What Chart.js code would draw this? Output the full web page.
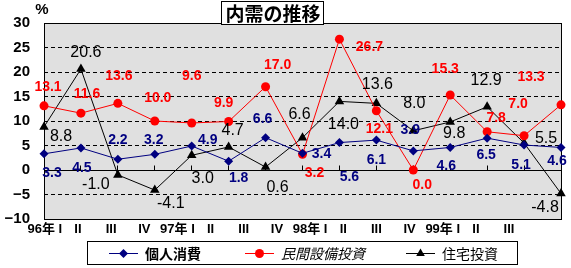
<!DOCTYPE html>
<html>
<head>
<meta charset="utf-8">
<script src="https://cdn.jsdelivr.net/npm/chart.js@4.4.1/dist/chart.umd.min.js"></script>
<style>
body{margin:0;background:#fff;}
canvas{display:block;}
</style>
</head>
<body>
<canvas id="naijuChart" width="571" height="268"></canvas>
<script>
/* DATA */
const quarters=["96年 I","II","III","IV","97年 I","II","III","IV","98年 I","II","III","IV","99年 I","II","III"];
const kojinShohi=[3.3,4.5,2.2,3.2,4.9,1.8,6.6,3.4,5.6,6.1,3.9,4.6,6.5,5.1,4.6];
const minkanSetsubi=[13.1,11.6,13.6,10.0,9.6,9.9,17.0,3.2,26.7,12.1,0.0,15.3,7.8,7.0,13.3];
const jutakuToshi=[8.8,20.6,-1.0,-4.1,3.0,4.7,0.6,6.6,14.0,13.6,8.0,9.8,12.9,5.5,-4.8];
const seriesNames=["個人消費","民間設備投資","住宅投資"];
const chartTitle="内需の推移";
const yUnit="%";
const yMin=-10, yMax=30, yStep=5;

/* STYLE */
const latin="'Liberation Sans', Arial, sans-serif";
const cjk="'Noto Sans CJK JP', sans-serif";
const mixed="'Liberation Sans', 'Noto Sans CJK JP', sans-serif";
const colors=["#000080","#ff0000","#000000"];
const markers=["rectRot","circle","triangle"];

// value label offsets from each point (px)
const blueOffsets=[[8,18],[1,19],[0,-20],[-1,-15],[16,-7],[10,16],[-3,-20],[19,0],[10,33],[0,19],[-3,-22],[-4,17],[-1,16],[-3,19],[-4,12]];
const redOffsets=[[4,-20],[6,-20],[1,-28],[3,-24],[0,-48],[-5,-20],[12,-23],[12,18],[30,7],[3,17],[9,14],[-5,-27],[9,-15],[-6,-33],[-30,-29]];
const blackOffsets=[[17,8],[5,-18],[-22,8],[16,12],[11,22],[4,-18],[12,19],[-3,-24],[4,22],[1,-20],[1,-29],[4,10],[-1,-28],[22,-6],[-16,13]];

const labelStyles=[
    {size:14,font:"bold 14px "+latin,color:colors[0],offsets:blueOffsets},
    {size:14,font:"bold 14px "+latin,color:colors[1],offsets:redOffsets},
    {size:16,font:"16px "+latin,color:colors[2],offsets:blackOffsets}
];

const legendItems=[
    {lineX:109,textX:145,font:"bold 14px "+cjk},
    {lineX:245,textX:281,font:"italic 14px "+cjk},
    {lineX:406,textX:442,font:"14px "+cjk}
];

function alignPx(p){
    return Math.round(p-0.5)+0.5;
}

function drawMarker(ctx,style,x,y,r){
    ctx.beginPath();
    if(style==="rectRot"){
        ctx.moveTo(x,y-r);ctx.lineTo(x+r,y);ctx.lineTo(x,y+r);ctx.lineTo(x-r,y);
    }
    else if(style==="circle"){
        ctx.arc(x,y,r,0,Math.PI*2);
    }
    else{
        ctx.moveTo(x,y-r);ctx.lineTo(x+r*0.866,y+r/2);ctx.lineTo(x-r*0.866,y+r/2);
    }
    ctx.closePath();
    ctx.fill();
}

/* PLUGIN: background, frame, labels, title, legend */
const naijuPlugin={
    id:"naiju",
    beforeDraw(chart){
        const {ctx,chartArea:a}=chart;
        ctx.save();
        ctx.fillStyle="#e0e0e0";
        ctx.fillRect(a.left,a.top,a.right-a.left,a.bottom-a.top);
        ctx.restore();
    },
    beforeDatasetsDraw(chart){
        const {ctx,chartArea:a,scales}=chart;
        ctx.save();
        ctx.strokeStyle="#000";
        ctx.lineWidth=1;
        ctx.setLineDash([]);
        const y0=alignPx(scales.y.getPixelForValue(0));
        ctx.beginPath();
        ctx.moveTo(a.left,y0);ctx.lineTo(a.right,y0);
        quarters.forEach((q,i)=>{
            const x=alignPx(scales.x.getPixelForValue(i));
            ctx.moveTo(x,y0);ctx.lineTo(x,y0-5);
        });
        ctx.stroke();
        ctx.strokeRect(a.left+0.5,a.top+0.5,a.right-a.left,a.bottom-a.top);
        ctx.restore();
    },
    afterDatasetsDraw(chart){
        const ctx=chart.ctx;
        ctx.save();
        ctx.textAlign="center";
        ctx.textBaseline="alphabetic";
        chart.data.datasets.forEach((ds,d)=>{
            const st=labelStyles[d];
            const meta=chart.getDatasetMeta(d);
            ctx.font=st.font;
            ctx.fillStyle=st.color;
            meta.data.forEach((pt,i)=>{
                const o=st.offsets[i];
                ctx.fillText(ds.data[i].toFixed(1),pt.x+o[0],pt.y+o[1]+st.size*0.36);
            });
        });
        ctx.restore();
    },
    afterDraw(chart){
        const ctx=chart.ctx;
        ctx.save();
        ctx.strokeStyle="#000";
        ctx.lineWidth=1;
        ctx.setLineDash([]);

        // title box
        ctx.font="bold 19px "+cjk;
        const tw=ctx.measureText(chartTitle).width;
        const tx=273;
        ctx.fillStyle="#fff";
        ctx.fillRect(Math.round(tx-tw/2-4),1,Math.round(tw+8),24);
        ctx.strokeRect(Math.round(tx-tw/2-4)+0.5,1.5,Math.round(tw+8)-1,23);
        ctx.fillStyle="#000";
        ctx.textAlign="center";
        ctx.textBaseline="middle";
        ctx.fillText(chartTitle,tx,14);

        // unit
        ctx.font="bold 15px "+latin;
        ctx.fillText(yUnit,42,10);

        // legend
        ctx.strokeRect(87.5,241.5,430,23);
        const ly=253;
        ctx.textAlign="left";
        legendItems.forEach((it,i)=>{
            ctx.strokeStyle=colors[i];
            ctx.fillStyle=colors[i];
            ctx.beginPath();
            ctx.moveTo(it.lineX,ly+0.5);ctx.lineTo(it.lineX+29,ly+0.5);
            ctx.stroke();
            drawMarker(ctx,markers[i],it.lineX+14.5,ly+0.5,i===2?5:4.5);
            ctx.fillStyle="#000";
            ctx.font=it.font;
            ctx.fillText(seriesNames[i],it.textX,ly+1);
        });
        ctx.restore();
    }
};

/* CHART */
new Chart(
document.getElementById("naijuChart"),
{
    type:"line",

    data:{
        labels:quarters,
        datasets:[
            {label:seriesNames[0],data:kojinShohi,borderColor:colors[0],backgroundColor:colors[0],borderWidth:1,pointStyle:markers[0],pointRadius:4.5,pointBorderWidth:0,clip:false},
            {label:seriesNames[1],data:minkanSetsubi,borderColor:colors[1],backgroundColor:colors[1],borderWidth:1,pointStyle:markers[1],pointRadius:4.5,pointBorderWidth:0,clip:false},
            {label:seriesNames[2],data:jutakuToshi,borderColor:colors[2],backgroundColor:colors[2],borderWidth:1,pointStyle:markers[2],pointRadius:5.5,pointBorderWidth:0,clip:false}
        ]
    },

    options:{
        responsive:false,
        animation:false,
        layout:{padding:{top:17,right:10,left:0,bottom:0}},
        plugins:{
            legend:{display:false},
            tooltip:{enabled:false},
            title:{display:false}
        },
        scales:{
            x:{type:"category",display:false,offset:false},
            xl:{
                type:"linear",
                position:"bottom",
                min:-0.024,
                max:15.567,
                afterBuildTicks:s=>{s.ticks=quarters.map((q,i)=>({value:i}));},
                afterFit:s=>{s.height=49;},
                grid:{display:false,drawTicks:false},
                border:{display:false},
                ticks:{
                    autoSkip:false,maxRotation:0,minRotation:0,padding:3,color:"#000",
                    font:{family:mixed,size:13,weight:"bold"},
                    callback:v=>quarters[v]
                }
            },
            y:{
                min:yMin,
                max:yMax,
                afterFit:s=>{s.width=44;},
                ticks:{
                    stepSize:yStep,padding:14,color:"#000",
                    font:{family:latin,size:15,weight:"bold"},
                    callback:v=>String(v).replace("-","−")
                },
                grid:{color:"#000",lineWidth:1,drawTicks:false},
                border:{display:false,dash:c=>(c.tick&&c.tick.value===0)?[]:[4,3]}
            }
        }
    },

    plugins:[naijuPlugin]
});
</script>
</body>
</html>
